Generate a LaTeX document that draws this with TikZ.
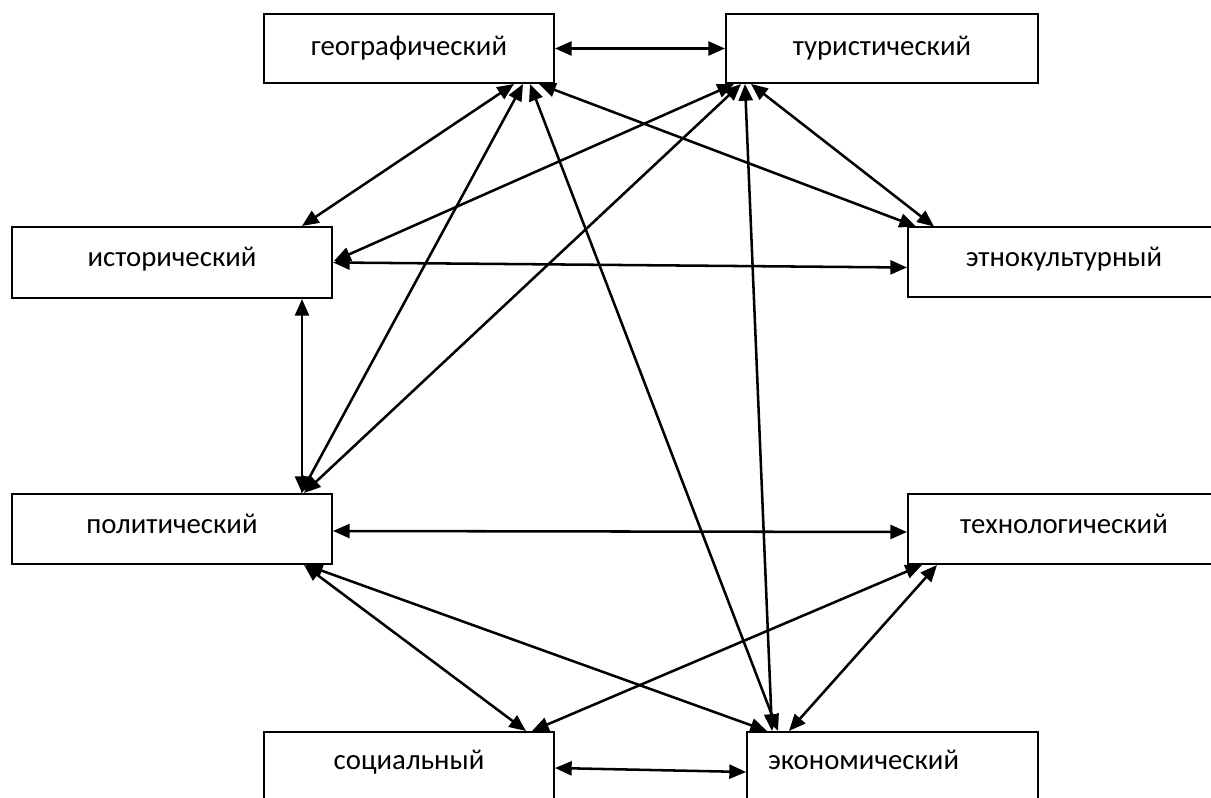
\documentclass[tikz,border=0pt]{standalone}
\usepackage{fontspec}
\setmainfont{Carlito}
\usetikzlibrary{arrows.meta,calc}
\tikzset{
  box/.style={draw=black, line width=1.5pt, fill=white, inner sep=0pt,
    font=\fontsize{21.6}{26}\selectfont},
  mid/.style={text height=15pt, text depth=9pt},
  low/.style={text height=15pt, text depth=11pt},
  link/.style={line width=1.9pt, {Triangle[length=12.5pt,width=10.5pt]}-{Triangle[length=12.5pt,width=10.5pt]}}
}
\begin{document}
\begin{tikzpicture}[x=0.75pt,y=-0.75pt]
\useasboundingbox (0,0) rectangle (1211,798);
\clip (0,0) rectangle (1211,798);
\fill[white] (0,0) rectangle (1211,798);
% nodes
\node[box, minimum width=217.5pt, minimum height=51.75pt] (geo) at (409,48.5) {географический};
\node[box, minimum width=234pt, minimum height=51.75pt] (tur) at (882,48.5) {туристический};
\node[box, mid, minimum width=240pt, minimum height=53.25pt] (ist) at (172,262.5) {исторический};
\node[box, mid, minimum width=234pt, minimum height=52.5pt] (etno) at (1064,262.5) {этнокультурный};
\node[box, mid, minimum width=240pt, minimum height=52.5pt] (pol) at (172,529) {политический};
\node[box, mid, minimum width=234pt, minimum height=52.5pt] (tech) at (1064,529) {технологический};
\node[box, low, minimum width=217.5pt, minimum height=52.5pt] (soc) at (409,767) {социальный};
\node[box, low, minimum height=52.5pt, text width=186.75pt, align=left, inner xsep=15.75pt] (eco) at (892.5,767) {экономический};
% connectors
\draw[link] (geo.east) -- (tur.west);
\draw[link] (ist.east) -- ($(etno.west)+(0,5)$);
\draw[link] ($(ist.south west)+(291,0)$) -- ($(pol.north west)+(291,0)$);
\draw[link] ($(pol.east)+(0,2)$) -- ($(tech.west)+(0,3)$);
\draw[link] ($(soc.east)+(0,1)$) -- ($(eco.west)+(0,5)$);
\draw[link] ($(geo.south west)+(251,0)$) -- ($(ist.north west)+(291,0)$);
\draw[link] ($(geo.south west)+(260,0)$) -- ($(pol.north west)+(290,0)$);
\draw[link] ($(geo.south west)+(276,0)$) -- ($(etno.north west)+(9,0)$);
\draw[link] ($(geo.south west)+(267,0)$) -- ($(eco.north west)+(32,0)$);
\draw[link] ($(tur.south west)+(9,0)$) -- ($(ist.east)+(1,-1.5)$);
\draw[link] ($(tur.south west)+(16,0)$) -- ($(pol.north west)+(293,0)$);
\draw[link] ($(tur.south west)+(26,0)$) -- ($(etno.north west)+(27,0)$);
\draw[link] ($(tur.south west)+(20,0)$) -- ($(eco.north west)+(26,0)$);
\draw[link] ($(pol.south west)+(293,0)$) -- ($(soc.north west)+(263,0)$);
\draw[link] ($(pol.south west)+(295,0)$) -- ($(eco.north west)+(21,0)$);
\draw[link] ($(tech.south west)+(15,0)$) -- ($(soc.north west)+(269,0)$);
\draw[link] ($(tech.south west)+(30,0)$) -- ($(eco.north west)+(43,0)$);
\end{tikzpicture}
\end{document}
